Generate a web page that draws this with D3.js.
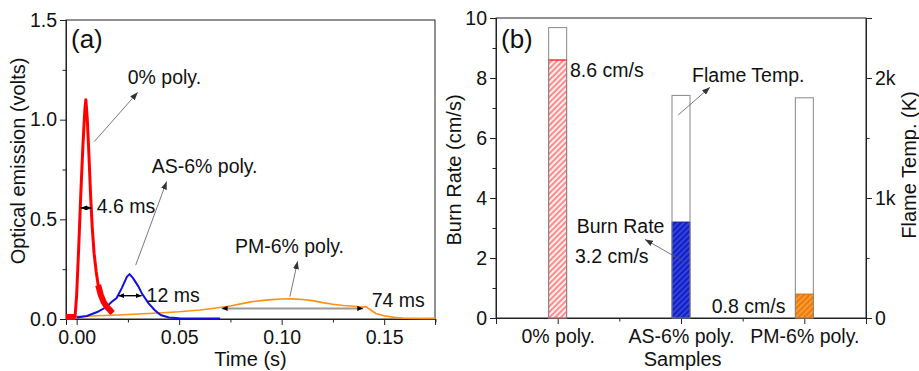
<!DOCTYPE html>
<html>
<head>
<meta charset="utf-8">
<script src="https://cdn.jsdelivr.net/npm/d3@7"></script>
<style>
body { margin: 0; background: #fff; }
text { font-family: Arial, "Liberation Sans", sans-serif; fill: #111; }
.domain, .tick line { stroke: #222; }
</style>
</head>
<body>
<svg id="chart" width="919" height="371"></svg>
<script>
// (a) optical emission traces, time in s, signal in volts
var redT = [-0.0052, -0.0008, 0.0000, 0.0010, 0.0020, 0.0030, 0.0040, 0.0045, 0.0052, 0.0060, 0.0068, 0.0076, 0.0085, 0.0095, 0.0105, 0.0118, 0.0132, 0.0148, 0.0162, 0.0175]
var redV = [0.010, 0.010, 0.12, 0.36, 0.62, 0.86, 1.05, 1.10, 1.00, 0.82, 0.62, 0.46, 0.33, 0.24, 0.17, 0.12, 0.085, 0.06, 0.045, 0.03]
var blueT = [0.000, 0.005, 0.010, 0.0145, 0.017, 0.0195, 0.022, 0.0245, 0.0258, 0.0275, 0.030, 0.032, 0.035, 0.038, 0.041, 0.045, 0.050, 0.060, 0.070]
var blueV = [0.008, 0.015, 0.035, 0.06, 0.085, 0.105, 0.155, 0.212, 0.225, 0.205, 0.165, 0.125, 0.08, 0.045, 0.02, 0.008, 0.004, 0.002, 0.002]
var orangeT = [-0.001, 0.010, 0.020, 0.030, 0.040, 0.050, 0.060, 0.068, 0.075, 0.080, 0.085, 0.090, 0.095, 0.100, 0.105, 0.110, 0.115, 0.120, 0.125, 0.130, 0.135, 0.139, 0.141, 0.1435, 0.146, 0.150, 0.155, 0.160, 0.168, 0.1748]
var orangeV = [0.012, 0.016, 0.020, 0.025, 0.030, 0.036, 0.045, 0.055, 0.065, 0.076, 0.086, 0.092, 0.097, 0.100, 0.101, 0.098, 0.092, 0.082, 0.074, 0.068, 0.064, 0.060, 0.062, 0.045, 0.028, 0.016, 0.008, 0.004, 0.003, 0.003]

// (b) bars
var samples = ["0% poly.", "AS-6% poly.", "PM-6% poly."]
var burnRate = [8.6, 3.2, 0.8]
var flameTemp = [2420, 1855, 1835]
var burnLabels = ["8.6 cm/s", "3.2 cm/s", "0.8 cm/s"]

var FS = 19.5   // label size
var svg = d3.select("#chart")
var defs = svg.append("defs")

//箭头
function marker(id, color, w, h) {
	defs.append("marker")
		.attr("id", id)
		.attr("markerUnits", "userSpaceOnUse")
		.attr("markerWidth", w)
		.attr("markerHeight", h)
		.attr("refX", w)
		.attr("refY", h / 2)
		.attr("orient", "auto-start-reverse")
		.append("path")
		.attr("d", "M0,0L" + w + "," + h / 2 + "L0," + h + "Z")
		.attr("fill", color)
}
marker("head", "#333", 8, 6)
marker("dim", "#000", 6, 5)

function hatch(id, bg, fg) {
	var p = defs.append("pattern")
		.attr("id", id)
		.attr("patternUnits", "userSpaceOnUse")
		.attr("width", 4)
		.attr("height", 4)
		.attr("patternTransform", "rotate(45)")
	p.append("rect").attr("width", 4).attr("height", 4).attr("fill", bg)
	p.append("line").attr("x1", 1).attr("y1", 0).attr("x2", 1).attr("y2", 4)
		.attr("stroke", fg).attr("stroke-width", 1.3)
}
hatch("hatchRed", "#fff0f0", "#ff5555")
hatch("hatchBlue", "#1420b8", "#3f55ff")
hatch("hatchOrange", "#ff9a30", "#e06a00")
var barFill = ["url(#hatchRed)", "url(#hatchBlue)", "url(#hatchOrange)"]
var barEdge = ["#ff3333", "#101890", "#cc6600"]

function addText(g, x, y, s, size, anchor) {
	return g.append("text")
		.attr("x", x)
		.attr("y", y)
		.attr("text-anchor", anchor || "start")
		.style("font-size", size + "px")
		.text(s)
}

function arrow(g, x1, y1, x2, y2, color, w, mk, both) {
	var l = g.append("line")
		.attr("x1", x1).attr("y1", y1).attr("x2", x2).attr("y2", y2)
		.attr("stroke", color).attr("stroke-width", w)
		.attr("marker-end", "url(#" + mk + ")")
	if (both) l.attr("marker-start", "url(#" + mk + ")")
}

// ---------------- panel (a) ----------------
var ga = svg.append("g")
var xA = d3.scaleLinear().domain([-0.0052, 0.1748]).range([66, 435])
var yA = d3.scaleLinear().domain([0, 1.5]).range([319, 20])

ga.append("rect")
	.attr("x", 66).attr("y", 20).attr("width", 369).attr("height", 299)
	.attr("fill", "none").attr("stroke", "#222")

ga.append("g").attr("transform", "translate(0,319)")
	.call(d3.axisBottom(xA).tickValues([0, 0.05, 0.10, 0.15]).tickFormat(d3.format(".2f")).tickSize(6).tickPadding(5))
ga.append("g").attr("transform", "translate(0,319)")
	.call(d3.axisBottom(xA).tickValues([0.025, 0.075, 0.125, 0.175]).tickFormat("").tickSize(3.5))
ga.append("g").attr("transform", "translate(66,0)")
	.call(d3.axisLeft(yA).tickValues([0, 0.5, 1.0, 1.5]).tickFormat(d3.format(".1f")).tickSize(6).tickPadding(3))
ga.append("g").attr("transform", "translate(66,0)")
	.call(d3.axisLeft(yA).tickValues([0.25, 0.75, 1.25]).tickFormat("").tickSize(3.5))
ga.selectAll(".tick text").style("font-size", FS + "px").attr("fill", "#111")

var line = d3.line()
	.x(function (d) { return xA(d[0]) })
	.y(function (d) { return yA(d[1]) })

var red = d3.zip(redT, redV)
var blue = d3.zip(blueT, blueV)
var orange = d3.zip(orangeT, orangeV)

ga.append("path").datum(orange).attr("d", line)
	.attr("fill", "none").attr("stroke", "#ff9010").attr("stroke-width", 1.6)
ga.append("path").datum(blue).attr("d", line)
	.attr("fill", "none").attr("stroke", "#1010e0").attr("stroke-width", 2)
ga.append("path").datum(red).attr("d", line)
	.attr("fill", "none").attr("stroke", "#ff0000").attr("stroke-width", 3)
	.attr("stroke-linejoin", "round")
// noisy parts of the red trace look much thicker
ga.append("path").datum(red.slice(0, 2)).attr("d", line)
	.attr("fill", "none").attr("stroke", "#ff0000").attr("stroke-width", 6)
ga.append("path").datum(red.slice(14)).attr("d", line)
	.attr("fill", "none").attr("stroke", "#ff0000").attr("stroke-width", 6)

// annotations (a)
addText(ga, 71, 48, "(a)", 26)
addText(ga, xA(0.0249), yA(1.18), "0% poly.", FS)
arrow(ga, xA(0.0086), yA(0.89), xA(0.0298), yA(1.137), "#555", 0.8, "head")
addText(ga, xA(0.0366), yA(0.73), "AS-6% poly.", FS)
arrow(ga, xA(0.0288), yA(0.27), xA(0.0439), yA(0.69), "#555", 0.8, "head")
addText(ga, xA(0.0772), yA(0.33), "PM-6% poly.", FS)
arrow(ga, xA(0.104), yA(0.112), xA(0.1078), yA(0.29), "#555", 0.8, "head")

arrow(ga, xA(0.0020), yA(0.557), xA(0.0073), yA(0.557), "#000", 1.4, "dim", true)
addText(ga, xA(0.0098), yA(0.53), "4.6 ms", FS)
arrow(ga, xA(0.0203), yA(0.117), xA(0.0317), yA(0.117), "#000", 1.4, "dim", true)
addText(ga, xA(0.0341), yA(0.0875), "12 ms", FS)
arrow(ga, xA(0.0707), yA(0.053), xA(0.1398), yA(0.053), "#999", 2, "dim", true)
addText(ga, xA(0.1439), yA(0.0625), "74 ms", FS)

addText(ga, 250.5, 366, "Time (s)", 20, "middle")
ga.append("text")
	.attr("transform", "translate(25,161) rotate(-90)")
	.attr("text-anchor", "middle")
	.style("font-size", "20px")
	.text("Optical emission (volts)")

// ---------------- panel (b) ----------------
var gb = svg.append("g")
var xB = d3.scaleLinear().domain([0.5, 3.5]).range([496, 866])
var yB = d3.scaleLinear().domain([0, 10]).range([318, 18])
var yT = d3.scaleLinear().domain([0, 2500]).range([318, 18])
var barW = 18

gb.append("rect")
	.attr("x", 496).attr("y", 18).attr("width", 370).attr("height", 300)
	.attr("fill", "none").attr("stroke", "#222")

gb.append("g").attr("transform", "translate(0,318)")
	.call(d3.axisBottom(xB).tickValues([1, 2, 3]).tickFormat(function (d) { return samples[d - 1] }).tickSize(6).tickPadding(5))
gb.append("g").attr("transform", "translate(0,318)")
	.call(d3.axisBottom(xB).tickValues([1.5, 2.5]).tickFormat("").tickSize(3.5))
gb.append("g").attr("transform", "translate(496,0)")
	.call(d3.axisLeft(yB).tickValues([0, 2, 4, 6, 8, 10]).tickSize(6).tickPadding(3))
gb.append("g").attr("transform", "translate(496,0)")
	.call(d3.axisLeft(yB).tickValues([1, 3, 5, 7, 9]).tickFormat("").tickSize(3.5))
gb.append("g").attr("transform", "translate(866,0)")
	.call(d3.axisRight(yT).tickValues([0, 1000, 2000]).tickFormat(function (d) { return d == 0 ? "0" : d / 1000 + "k" }).tickSize(6).tickPadding(3))
gb.append("g").attr("transform", "translate(866,0)")
	.call(d3.axisRight(yT).tickValues([500, 1500]).tickFormat("").tickSize(3.5))
gb.selectAll(".tick text").style("font-size", FS + "px").attr("fill", "#111")

var idx = [0, 1, 2]
gb.selectAll(".temp").data(idx).enter().append("rect")
	.attr("class", "temp")
	.attr("x", function (i) { return xB(i + 1) - barW / 2 })
	.attr("y", function (i) { return yT(flameTemp[i]) })
	.attr("width", barW)
	.attr("height", function (i) { return yT(0) - yT(flameTemp[i]) })
	.attr("fill", "#fff")
gb.selectAll(".rate").data(idx).enter().append("rect")
	.attr("class", "rate")
	.attr("x", function (i) { return xB(i + 1) - barW / 2 })
	.attr("y", function (i) { return yB(burnRate[i]) })
	.attr("width", barW)
	.attr("height", function (i) { return yB(0) - yB(burnRate[i]) })
	.attr("fill", function (i) { return barFill[i] })
	.attr("stroke", function (i) { return barEdge[i] })
	.attr("stroke-width", 0.8)
gb.selectAll(".outline").data(idx).enter().append("rect")
	.attr("class", "outline")
	.attr("x", function (i) { return xB(i + 1) - barW / 2 })
	.attr("y", function (i) { return yT(flameTemp[i]) })
	.attr("width", barW)
	.attr("height", function (i) { return yT(0) - yT(flameTemp[i]) })
	.attr("fill", "none")
	.attr("stroke", "#888")
	.attr("stroke-width", 1)
gb.append("line")
	.attr("x1", xB(1) - barW / 2).attr("x2", xB(1) + barW / 2)
	.attr("y1", yB(burnRate[0])).attr("y2", yB(burnRate[0]))
	.attr("stroke", "#ff3333").attr("stroke-width", 1.2)

addText(gb, 501, 48, "(b)", 26)
addText(gb, xB(1.1), yB(8.02), burnLabels[0], FS)
addText(gb, xB(2.09), yB(7.88), "Flame Temp.", FS)
arrow(gb, xB(1.978), yB(6.77), xB(2.235), yB(7.69), "#555", 0.8, "head")
addText(gb, xB(1.154), yB(2.83), "Burn Rate", FS)
addText(gb, xB(1.14), yB(1.85), burnLabels[1], FS)
arrow(gb, xB(2.014), yB(1.9), xB(1.708), yB(2.62), "#555", 0.8, "head")
addText(gb, xB(2.249), yB(0.18), burnLabels[2], FS)

addText(gb, 682.7, 366, "Samples", 20, "middle")
gb.append("text")
	.attr("transform", "translate(461,170) rotate(-90)")
	.attr("text-anchor", "middle")
	.style("font-size", "20px")
	.text("Burn Rate (cm/s)")
gb.append("text")
	.attr("transform", "translate(916,165) rotate(-90)")
	.attr("text-anchor", "middle")
	.style("font-size", "20px")
	.text("Flame Temp. (K)")
</script>
</body>
</html>
